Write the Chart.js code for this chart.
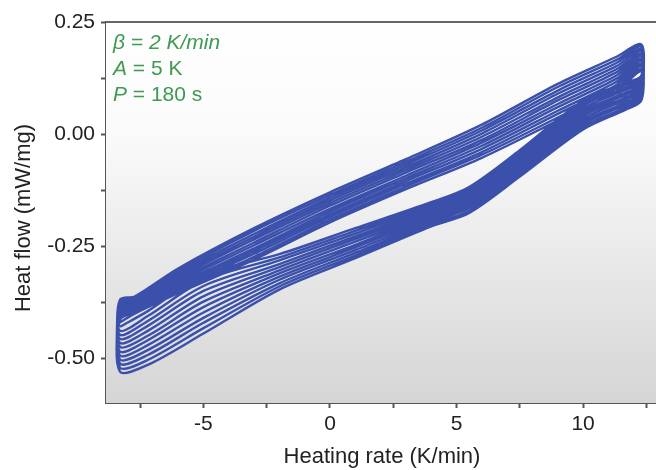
<!DOCTYPE html>
<html>
<head>
<meta charset="utf-8">
<script src="https://cdn.jsdelivr.net/npm/chart.js@4"></script>
<style>
  html, body { margin: 0; padding: 0; background: #fff; overflow: hidden; }
</style>
</head>
<body>
<canvas id="hfChart" width="662" height="470"></canvas>
<script>
// heating rate (K/min) along one modulation cycle: heating branch, then cooling branch
const rateLoop = [-8.3, -7.2, -5, -2, 1, 4, 5.5, 7.5, 10, 11.7, 12.3, 12.3, 11.3, 9, 6, 3, 0, -3, -6, -7.7, -8.3];

// heat flow (mW/mg) for each cycle, same order as rateLoop
const heatFlowCycles = [
  [-0.430, -0.395, -0.315, -0.268, -0.210, -0.152, -0.118, -0.036, 0.075, 0.115, 0.130, 0.200, 0.172, 0.112, 0.021, -0.056, -0.130, -0.210, -0.300, -0.362, -0.370],
  [-0.439, -0.406, -0.327, -0.275, -0.216, -0.157, -0.123, -0.041, 0.069, 0.110, 0.125, 0.195, 0.165, 0.105, 0.014, -0.062, -0.136, -0.216, -0.305, -0.365, -0.375],
  [-0.448, -0.417, -0.339, -0.282, -0.222, -0.162, -0.129, -0.047, 0.063, 0.104, 0.120, 0.189, 0.158, 0.097, 0.008, -0.068, -0.142, -0.223, -0.310, -0.369, -0.379],
  [-0.457, -0.428, -0.350, -0.290, -0.228, -0.167, -0.134, -0.052, 0.057, 0.099, 0.115, 0.184, 0.151, 0.090, 0.001, -0.074, -0.148, -0.229, -0.315, -0.372, -0.384],
  [-0.466, -0.439, -0.362, -0.297, -0.234, -0.172, -0.139, -0.057, 0.051, 0.093, 0.110, 0.178, 0.144, 0.082, -0.006, -0.080, -0.154, -0.235, -0.320, -0.376, -0.388],
  [-0.475, -0.450, -0.374, -0.304, -0.240, -0.177, -0.144, -0.063, 0.045, 0.088, 0.105, 0.173, 0.137, 0.075, -0.013, -0.086, -0.160, -0.242, -0.325, -0.379, -0.393],
  [-0.485, -0.460, -0.386, -0.311, -0.247, -0.181, -0.150, -0.068, 0.040, 0.082, 0.100, 0.167, 0.130, 0.067, -0.019, -0.093, -0.167, -0.248, -0.330, -0.383, -0.397],
  [-0.494, -0.471, -0.398, -0.318, -0.253, -0.186, -0.155, -0.073, 0.034, 0.077, 0.095, 0.162, 0.123, 0.060, -0.026, -0.099, -0.173, -0.255, -0.335, -0.386, -0.402],
  [-0.503, -0.482, -0.410, -0.325, -0.259, -0.191, -0.160, -0.079, 0.028, 0.071, 0.090, 0.156, 0.116, 0.052, -0.033, -0.105, -0.179, -0.261, -0.340, -0.390, -0.406],
  [-0.512, -0.493, -0.421, -0.333, -0.265, -0.196, -0.165, -0.084, 0.022, 0.066, 0.085, 0.151, 0.109, 0.045, -0.040, -0.111, -0.185, -0.267, -0.345, -0.393, -0.411],
  [-0.521, -0.504, -0.433, -0.340, -0.271, -0.201, -0.171, -0.090, 0.016, 0.060, 0.080, 0.145, 0.102, 0.037, -0.046, -0.117, -0.191, -0.274, -0.350, -0.397, -0.415],
  [-0.530, -0.515, -0.445, -0.347, -0.277, -0.206, -0.176, -0.095, 0.010, 0.055, 0.075, 0.140, 0.095, 0.030, -0.053, -0.123, -0.197, -0.280, -0.355, -0.400, -0.420]
];

const xTickValues = [-5, 0, 5, 10];
const xTickLabels = ["-5", "0", "5", "10"];
const xMinorTicks = [-7.5, -2.5, 2.5, 7.5, 12.5];
const yTickValues = [0.25, 0, -0.25, -0.5];
const yTickLabels = ["0.25", "0.00", "-0.25", "-0.50"];
const yMinorTicks = [0.125, -0.125, -0.375];

const xTitle = "Heating rate (K/min)";
const yTitle = "Heat flow (mW/mg)";
const noteLines = [
  [["β = 2 K/min", true]],
  [["A", true], [" = 5 K", false]],
  [["P", true], [" = 180 s", false]]
];

const FONT = "'Liberation Sans', Arial, sans-serif";
const points = [];
heatFlowCycles.forEach(cycle => cycle.forEach((hf, i) => points.push({ x: rateLoop[i], y: hf })));

const tickSet = (major, minor) => s => {
  s.ticks = major.concat(minor).sort((a, b) => a - b).map(v => ({ value: v }));
};
const tickLabel = (vals, labels) => v => {
  const i = vals.indexOf(v);
  return i >= 0 ? labels[i] : "";
};

const decor = {
  id: "decor",
  beforeDatasetsDraw(chart) {
    const { ctx, chartArea: a } = chart;
    const g = ctx.createLinearGradient(0, a.top, 0, a.bottom);
    g.addColorStop(0, "#ffffff");
    g.addColorStop(0.3, "#fafafa");
    g.addColorStop(1, "#d5d5d5");
    ctx.save();
    ctx.fillStyle = g;
    ctx.fillRect(a.left, a.top, a.right - a.left, a.bottom - a.top);
    ctx.restore();
  },
  afterDraw(chart) {
    const { ctx, chartArea: a } = chart;
    ctx.save();
    ctx.strokeStyle = "#666";
    ctx.lineWidth = 2;
    ctx.beginPath();
    ctx.moveTo(a.left, a.top);
    ctx.lineTo(a.right, a.top);
    ctx.stroke();

    ctx.fillStyle = "#222";
    ctx.font = "22px " + FONT;
    ctx.textAlign = "center";
    ctx.textBaseline = "alphabetic";
    ctx.fillText(xTitle, 382, 463);
    ctx.translate(30, 218);
    ctx.rotate(-Math.PI / 2);
    ctx.fillText(yTitle, 0, 0);
    ctx.restore();

    ctx.save();
    ctx.fillStyle = "#3d9a50";
    ctx.textAlign = "left";
    noteLines.forEach((runs, li) => {
      let x = 113;
      runs.forEach(([t, it]) => {
        ctx.font = (it ? "italic " : "") + "21px " + FONT;
        ctx.fillText(t, x, 49 + li * 26);
        x += ctx.measureText(t).width;
      });
    });
    ctx.restore();
  }
};

new Chart(document.getElementById("hfChart"), {
  type: "scatter",
  data: {
    datasets: [{
      data: points,
      showLine: true,
      borderColor: "#3a50aa",
      borderWidth: 2.4,
      pointRadius: 0,
      tension: 0.3
    }]
  },
  options: {
    responsive: false,
    animation: false,
    layout: { padding: { left: 0, top: 22, right: 3, bottom: 0 } },
    plugins: { legend: { display: false }, tooltip: { enabled: false } },
    scales: {
      x: {
        type: "linear",
        min: -8.85,
        max: 13,
        afterFit: s => { s.height = 67; },
        afterBuildTicks: tickSet(xTickValues, xMinorTicks),
        ticks: { autoSkip: false, maxRotation: 0, padding: 4, color: "#222", font: { size: 21, family: FONT }, callback: tickLabel(xTickValues, xTickLabels) },
        grid: { drawOnChartArea: false, tickLength: 5, tickWidth: 2, color: "#555" },
        border: { color: "#555", width: 2 }
      },
      y: {
        type: "linear",
        min: -0.6,
        max: 0.25,
        afterFit: s => { s.width = 106; },
        afterBuildTicks: tickSet(yTickValues, yMinorTicks),
        ticks: { autoSkip: false, padding: 6, color: "#222", font: { size: 21, family: FONT }, callback: tickLabel(yTickValues, yTickLabels) },
        grid: { drawOnChartArea: false, tickLength: 5, tickWidth: 2, color: "#555" },
        border: { color: "#555", width: 2 }
      }
    }
  },
  plugins: [decor]
});
</script>
</body>
</html>
